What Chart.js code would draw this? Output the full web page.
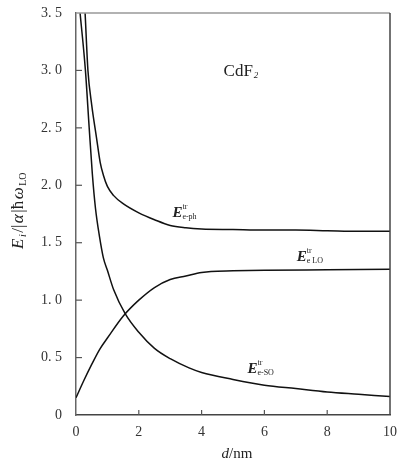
<!DOCTYPE html>
<html>
<head>
<meta charset="utf-8">
<script src="https://cdn.jsdelivr.net/npm/chart.js@4.4.1/dist/chart.umd.min.js"></script>
<style>
  body { margin: 0; background: #fff; }
  #wrap { width: 398px; height: 466px; }
</style>
</head>
<body>
<div id="wrap"><canvas id="c" width="398" height="466"></canvas></div>
<script>
// values (d in nm, energy in units of |a| hbar w_LO)
const dPh = [0.29, 0.38, 0.5, 0.65, 0.77, 0.87, 1.0, 1.2, 1.5, 2.0, 2.5, 3.0, 3.5, 4.0, 5.0, 6.0, 7.0, 8.0, 9.0, 10.0];
const ePh = [3.5, 3.0, 2.7, 2.42, 2.2, 2.09, 1.99, 1.91, 1.84, 1.76, 1.70, 1.65, 1.63, 1.62, 1.615, 1.61, 1.61, 1.605, 1.60, 1.60];

const dLO = [0, 0.25, 0.5, 0.75, 1.0, 1.5, 2.0, 2.5, 3.0, 3.5, 4.0, 4.3, 5.0, 6.0, 8.0, 10.0];
const eLO = [0.15, 0.3, 0.44, 0.57, 0.67, 0.86, 1.0, 1.11, 1.18, 1.21, 1.24, 1.25, 1.255, 1.26, 1.265, 1.27];

const dSO = [0.13, 0.3, 0.42, 0.52, 0.62, 0.75, 0.87, 1.0, 1.2, 1.57, 2.0, 2.5, 3.0, 3.6, 4.0, 5.0, 6.0, 7.0, 8.0, 9.0, 10.0];
const eSO = [3.5, 3.0, 2.5, 2.1, 1.8, 1.55, 1.37, 1.26, 1.09, 0.88, 0.72, 0.58, 0.49, 0.41, 0.37, 0.31, 0.26, 0.23, 0.2, 0.18, 0.16];

const yTickLabels = ['0', '0. 5', '1. 0', '1. 5', '2. 0', '2. 5', '3. 0', '3. 5'];
const xTickLabels = ['0', '2', '4', '6', '8', '10'];

const serif = '"Liberation Serif", "DejaVu Serif", serif';

function pts(xs, ys) {
  return xs.map((x, i) => ({ x: x, y: ys[i] }));
}

function line(data) {
  return {
    data: data,
    borderColor: '#111',
    borderWidth: 1.5,
    pointRadius: 0,
    fill: false,
    cubicInterpolationMode: 'monotone'
  };
}

// frame, inward ticks and the text that sits inside / beside the plot
const decorations = {
  id: 'decorations',
  afterDraw(chart) {
    const ctx = chart.ctx;
    const a = chart.chartArea;
    const xs = chart.scales.x, ys = chart.scales.y;
    ctx.save();

    // top and right edges of the frame
    ctx.strokeStyle = '#999';
    ctx.lineWidth = 1.5;
    ctx.beginPath();
    ctx.moveTo(a.left, a.top);
    ctx.lineTo(a.right, a.top);
    ctx.stroke();
    ctx.strokeStyle = '#444';
    ctx.beginPath();
    ctx.moveTo(a.right, a.top);
    ctx.lineTo(a.right, a.bottom);
    ctx.stroke();

    // inward ticks
    ctx.strokeStyle = '#555';
    ctx.lineWidth = 1.2;
    ys.ticks.forEach(t => {
      if (t.value <= 0 || t.value >= 3.5) return;
      const y = ys.getPixelForValue(t.value);
      ctx.beginPath();
      ctx.moveTo(a.left, y);
      ctx.lineTo(a.left + 6, y);
      ctx.stroke();
    });
    xs.ticks.forEach(t => {
      if (t.value <= 0 || t.value >= 10) return;
      const x = xs.getPixelForValue(t.value);
      ctx.beginPath();
      ctx.moveTo(x, a.bottom);
      ctx.lineTo(x, a.bottom - 5);
      ctx.stroke();
    });

    ctx.fillStyle = '#222';
    ctx.textBaseline = 'alphabetic';
    ctx.textAlign = 'left';

    // CdF2
    let x = xs.getPixelForValue(4.7), y = ys.getPixelForValue(2.95);
    ctx.font = '17px ' + serif;
    ctx.fillText('CdF', x, y);
    const w = ctx.measureText('CdF').width;
    ctx.font = 'italic 9px ' + serif;
    ctx.fillText('2', x + w + 1, y + 2);

    // curve labels E^tr_sub
    function eLabel(d, e, sub) {
      const px = xs.getPixelForValue(d), py = ys.getPixelForValue(e);
      ctx.font = 'italic bold 15px ' + serif;
      ctx.fillText('E', px, py);
      const ew = ctx.measureText('E').width;
      ctx.font = '8px ' + serif;
      ctx.fillText('tr', px + ew, py - 8);
      ctx.fillText(sub, px + ew, py + 2);
    }
    eLabel(3.07, 1.72, 'e-ph');
    eLabel(7.03, 1.34, 'e LO');
    eLabel(5.46, 0.37, 'e-SO');

    // y axis title: E_i/|a|hbar w_LO
    ctx.translate(18, 210);
    ctx.rotate(-Math.PI / 2);
    const parts = [
      { t: 'E', f: 'italic 17px ' + serif, dy: 0 },
      { t: 'i', f: 'italic 10px ' + serif, dy: 3 },
      { t: '/|', f: '17px ' + serif, dy: 0 },
      { t: 'α', f: 'italic 17px ' + serif, dy: 0 },
      { t: '|ħ', f: '17px ' + serif, dy: 0 },
      { t: 'ω', f: 'italic 17px ' + serif, dy: 0 },
      { t: 'LO', f: '10px ' + serif, dy: 3 }
    ];
    const gap = 1.5;
    let total = 0;
    parts.forEach(p => { ctx.font = p.f; p.w = ctx.measureText(p.t).width; total += p.w + gap; });
    let cx = -total / 2;
    parts.forEach(p => { ctx.font = p.f; ctx.fillText(p.t, cx, 5 + p.dy); cx += p.w + gap; });
    ctx.setTransform(1, 0, 0, 1, 0, 0);

    // x axis title: d/nm
    ctx.textAlign = 'left';
    ctx.font = 'italic 15px ' + serif;
    const dw = ctx.measureText('d').width;
    ctx.font = '15px ' + serif;
    const nw = ctx.measureText('/nm').width;
    const tx = (a.left + a.right) / 2 - (dw + nw) / 2 + 4;
    ctx.font = 'italic 15px ' + serif;
    ctx.fillText('d', tx, 458);
    ctx.font = '15px ' + serif;
    ctx.fillText('/nm', tx + dw, 458);

    ctx.restore();
  }
};

new Chart(document.getElementById('c'), {
  type: 'line',
  data: {
    datasets: [line(pts(dPh, ePh)), line(pts(dLO, eLO)), line(pts(dSO, eSO))]
  },
  options: {
    responsive: false,
    animation: false,
    layout: { padding: { top: 13, right: 8, left: 0, bottom: 0 } },
    plugins: { legend: { display: false }, tooltip: { enabled: false } },
    scales: {
      x: {
        type: 'linear',
        min: 0,
        max: 10,
        grid: { display: false, drawTicks: false },
        border: { display: true, color: '#444', width: 1.5 },
        ticks: {
          stepSize: 2,
          padding: 9,
          color: '#333',
          font: { family: serif, size: 14 },
          callback: (v, i) => xTickLabels[i]
        },
        afterFit: s => { s.height = 51; s.paddingLeft = 0; s.paddingRight = 0; }
      },
      y: {
        min: 0,
        max: 3.5,
        grid: { display: false, drawTicks: false },
        border: { display: true, color: '#666', width: 1.5 },
        ticks: {
          stepSize: 0.5,
          padding: 14,
          color: '#333',
          font: { family: serif, size: 14 },
          callback: (v, i) => yTickLabels[i]
        },
        afterFit: s => { s.width = 76; s.paddingTop = 0; s.paddingBottom = 0; }
      }
    }
  },
  plugins: [decorations]
});
</script>
</body>
</html>
